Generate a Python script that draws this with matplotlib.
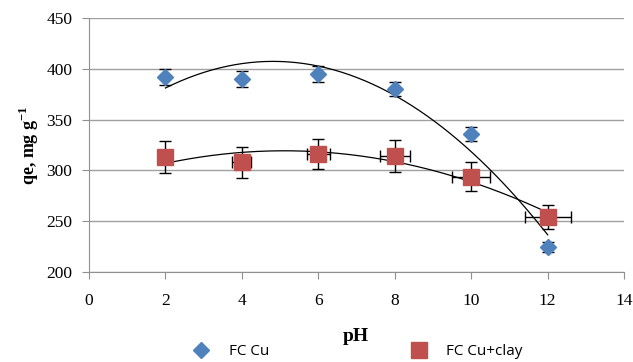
import numpy as np
import matplotlib.pyplot as plt
from matplotlib.lines import Line2D

# data
ph = np.array([2, 4, 6, 8, 10, 12])
qe_cu = np.array([392, 390, 395, 380, 336, 225])
qe_cu_err = np.array([8, 8, 8, 7, 7, 5])
qe_clay = np.array([313, 308, 316, 314, 294, 254])
qe_clay_err = np.array([16, 15, 15, 16, 14, 12])
ph_clay_err = np.array([0.0, 0.25, 0.3, 0.4, 0.5, 0.6])

blue = '#4F81BD'
red = '#C0504D'

fig = plt.figure(figsize=(6.33, 3.62), dpi=100)
ax = fig.add_axes([0.1406, 0.2486, 0.8454, 0.7014])

# polynomial (order 2) trendlines, like Excel
xx = np.linspace(2, 12, 200)
p_cu = np.polyfit(ph, qe_cu, 2)
p_clay = np.polyfit(ph, qe_clay, 2)
ax.plot(xx, np.polyval(p_cu, xx), color='black', lw=0.9, zorder=2)
ax.plot(xx, np.polyval(p_clay, xx), color='black', lw=0.9, zorder=2)

ax.errorbar(ph, qe_cu, yerr=qe_cu_err, fmt='D', color=blue, ms=8,
            ecolor='black', elinewidth=1, capsize=4, capthick=1, zorder=3)
ax.errorbar(ph, qe_clay, yerr=qe_clay_err, xerr=ph_clay_err, fmt='s', color=red,
            ms=11, ecolor='black', elinewidth=1, capsize=4, capthick=1, zorder=3)

ax.set_xlim(0, 14)
ax.set_ylim(200, 450)
ax.set_xticks(np.arange(0, 15, 2))
ax.set_yticks(np.arange(200, 451, 50))
ax.yaxis.grid(True, color='#A0A0A0', lw=1)
ax.set_axisbelow(True)
for s in ['top', 'right']:
    ax.spines[s].set_visible(False)
for s in ['left', 'bottom']:
    ax.spines[s].set_color('#909090')
ax.tick_params(axis='both', colors='#909090', length=5, labelcolor='black',
               labelsize=12.5, pad=10)
ax.tick_params(axis='y', pad=7)
for lab in ax.get_xticklabels() + ax.get_yticklabels():
    lab.set_family('Liberation Serif')

ax.set_ylabel('qe, mg g$^{\\mathregular{-1}}$', family='Liberation Serif',
              fontweight='bold', fontsize=13, labelpad=4)
fig.text(0.562, 0.07, 'pH', family='Liberation Serif', fontweight='bold',
         fontsize=14, ha='center', va='center')

handles = [Line2D([], [], ls='none', marker='D', color=blue, ms=8),
           Line2D([], [], ls='none', marker='s', color=red, ms=11)]
fig.legend(handles, ['FC Cu', 'FC Cu+clay'], loc='lower center',
           bbox_to_anchor=(0.56, -0.03), ncol=2, frameon=False,
           columnspacing=8.8, handletextpad=0.8, prop={'family': 'Open Sans', 'size': 11})

fig.savefig('out.png', dpi=100)
